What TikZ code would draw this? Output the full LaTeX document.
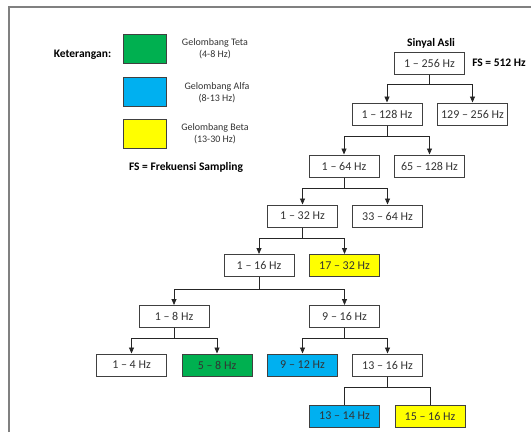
\documentclass[tikz,border=0pt]{standalone}
\usepackage{fontspec}
\setmainfont{Carlito}
\usetikzlibrary{arrows.meta}
\definecolor{tetagreen}{HTML}{00B050}
\definecolor{alfablue}{HTML}{00B0F0}
\definecolor{betayellow}{HTML}{FFFF00}
\definecolor{boxline}{HTML}{404040}
\definecolor{frameline}{HTML}{808080}

\begin{document}
\begin{tikzpicture}[x=1pt, y=-1pt,
    band/.style={draw=boxline, line width=1pt, minimum width=70pt, minimum height=22pt,
      inner sep=0pt, font=\fontsize{12}{14}\selectfont, text=black!80},
    swatch/.style={draw=boxline, line width=1pt, minimum width=43pt, minimum height=29pt, inner sep=0pt},
    legtext/.style={align=center, font=\fontsize{10}{12}\selectfont, text=black!80},
    arr/.style={draw=black!85, line width=0.8pt, -{Triangle[length=6pt,width=5pt]}}]
  \useasboundingbox (0,0) rectangle (531,432);
  % bingkai
  \draw[frameline, line width=1.2pt] (9,432) -- (9,7) -- (531,7);

  % keterangan
  \node[font=\fontsize{11.5}{13}\selectfont\bfseries] (ket) at (82.5,55) {Keterangan:};
  \node[swatch, fill=tetagreen] (legteta) at (144.5,48.5) {};
  \node[swatch, fill=alfablue] (legalfa) at (144.5,92) {};
  \node[swatch, fill=betayellow] (legbeta) at (144.5,134) {};
  \node[legtext] (txteta) at (215,49) {Gelombang Teta\\(4-8 Hz)};
  \node[legtext] (txalfa) at (217,93) {Gelombang Alfa\\(8-13 Hz)};
  \node[legtext] (txbeta) at (215,133.5) {Gelombang Beta\\(13-30 Hz)};
  \node[font=\fontsize{11.5}{13}\selectfont\bfseries] (fsnote) at (186,167) {FS = Frekuensi Sampling};

  % pohon dekomposisi
  \node[font=\fontsize{11.5}{13}\selectfont\bfseries] (asli) at (431,43) {Sinyal Asli};
  \node[band] (root) at (429.5,63) {1 – 256 Hz};
  \node[font=\fontsize{11.5}{13}\selectfont\bfseries] (fs) at (499,63) {FS = 512 Hz};
  \node[band] (a1) at (387,114) {1 – 128 Hz};
  \node[band] (a2) at (472.5,114) {129 – 256 Hz};
  \node[band] (b1) at (344,166) {1 – 64 Hz};
  \node[band] (b2) at (429.5,166) {65 – 128 Hz};
  \node[band] (c1) at (302.5,216) {1 – 32 Hz};
  \node[band] (c2) at (387.5,216) {33 – 64 Hz};
  \node[band] (d1) at (259,265.5) {1 – 16 Hz};
  \node[band, fill=betayellow] (d2) at (344.5,265.5) {17 – 32 Hz};
  \node[band] (e1) at (174,316.5) {1 – 8 Hz};
  \node[band] (e2) at (344.5,316.5) {9 – 16 Hz};
  \node[band] (f1) at (131.5,365) {1 – 4 Hz};
  \node[band, fill=tetagreen] (f2) at (217,365) {5 – 8 Hz};
  \node[band, fill=alfablue] (f3) at (302.5,365) {9 – 12 Hz};
  \node[band] (f4) at (387.5,365) {13 – 16 Hz};
  \node[band, fill=alfablue] (g1) at (344.5,416) {13 – 14 Hz};
  \node[band, fill=betayellow] (g2) at (430,416) {15 – 16 Hz};

  % cabang
  \draw[arr] (root.south) -- ++(0,10) -| (a1.north);
  \draw[arr] (root.south) -- ++(0,10) -| (a2.north);
  \draw[arr] (a1.south) -- ++(0,11) -| (b1.north);
  \draw[arr] (a1.south) -- ++(0,11) -| (b2.north);
  \draw[arr] (b1.south) -- ++(0,11) -| (c1.north);
  \draw[arr] (b1.south) -- ++(0,11) -| (c2.north);
  \draw[arr] (c1.south) -- ++(0,11) -| (d1.north);
  \draw[arr] (c1.south) -- ++(0,11) -| (d2.north);
  \draw[arr] (d1.south) -- ++(0,12) -| (e1.north);
  \draw[arr] (d1.south) -- ++(0,12) -| (e2.north);
  \draw[arr] (e1.south) -- ++(0,10) -| (f1.north);
  \draw[arr] (e1.south) -- ++(0,10) -| (f2.north);
  \draw[arr] (e2.south) -- ++(0,10) -| (f3.north);
  \draw[arr] (e2.south) -- ++(0,10) -| (f4.north);
  \draw[draw=black!85, line width=0.8pt] (f4.south) -- ++(0,11) -| (g1.north);
  \draw[draw=black!85, line width=0.8pt] (f4.south) -- ++(0,11) -| (g2.north);
\end{tikzpicture}
\end{document}
